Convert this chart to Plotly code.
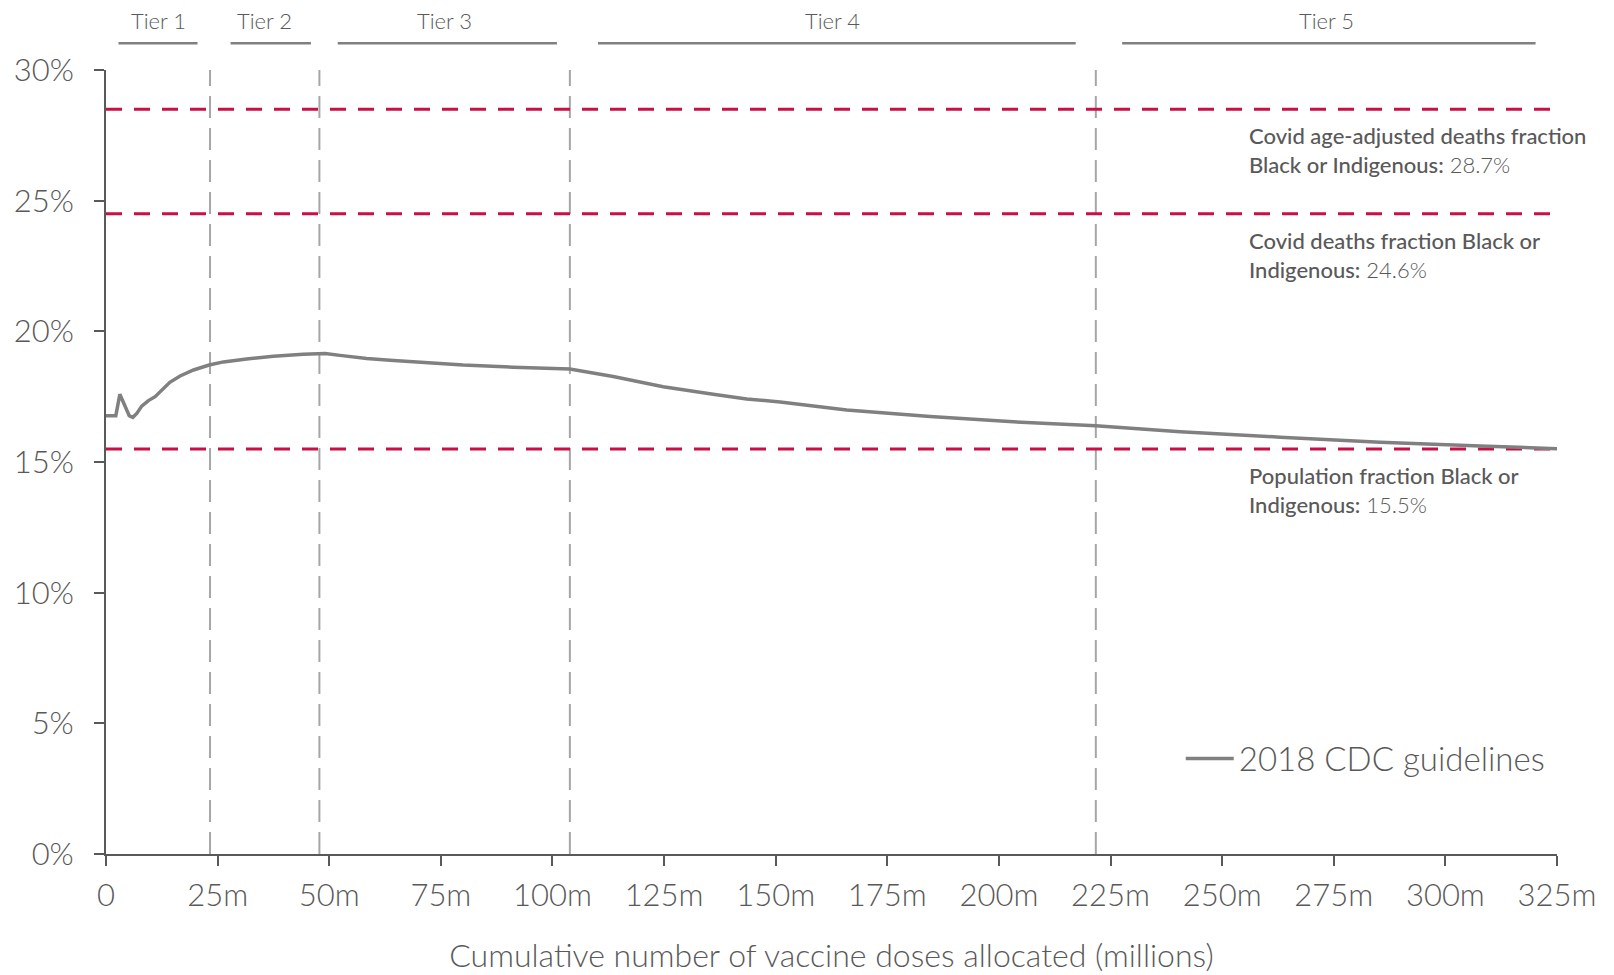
import plotly.graph_objects as go

# ---- data ----
doses_m = [0, 2.2, 3.1, 4.3, 5.2, 6.0, 6.9, 8.0, 9.5, 11.0, 12.5, 14.3, 16.6, 19.6, 23.1, 26.3,
           31.5, 37.5, 44.2, 49.1, 52.4, 58.4, 63.6, 71.1, 80.0, 91.2, 103.9, 113.6, 124.8,
           136.0, 143.5, 151.0, 165.9, 184.6, 203.2, 221.7, 240.6, 263.0, 285.4, 307.8, 325.0]
pct_black_indigenous = [16.77, 16.77, 17.59, 17.12, 16.77, 16.71, 16.86, 17.14, 17.35, 17.5, 17.76,
                        18.05, 18.29, 18.52, 18.71, 18.83, 18.94, 19.05, 19.12, 19.15, 19.08, 18.96,
                        18.89, 18.80, 18.71, 18.63, 18.56, 18.27, 17.88, 17.59, 17.41, 17.30, 16.99,
                        16.74, 16.54, 16.39, 16.16, 15.95, 15.76, 15.61, 15.51]
series_name = "2018 CDC guidelines"

ref_levels = [28.5, 24.5, 15.5]
ref_labels = ["Covid age-adjusted deaths fraction<br>Black or Indigenous:",
              "Covid deaths fraction Black or<br>Indigenous:",
              "Population fraction Black or<br>Indigenous:"]
ref_values_text = ["28.7%", "24.6%", "15.5%"]

tier_names = ["Tier 1", "Tier 2", "Tier 3", "Tier 4", "Tier 5"]
tier_bounds = [0, 23.3, 47.8, 103.9, 221.7, 325]
tier_bracket_start = [2.8, 27.9, 51.9, 110.2, 227.6]
tier_bracket_end = [20.5, 45.9, 101.0, 217.2, 320.2]

x_ticks = [0, 25, 50, 75, 100, 125, 150, 175, 200, 225, 250, 275, 300, 325]
x_ticktext = ["0"] + [f"{v}m" for v in x_ticks[1:]]
y_ticks = [0, 5, 10, 15, 20, 25, 30]
y_ticktext = [f"{v}%" for v in y_ticks]

# ---- style ----
FONT = "Lato"
TXT = "#595959"
RED = "#C90F45"
LINE_GRAY = "#808080"
VGRAY = "#a6a6a6"

fig = go.Figure()
fig.add_trace(go.Scatter(x=doses_m, y=pct_black_indigenous, mode="lines", name=series_name,
                         line=dict(color=LINE_GRAY, width=3.5), cliponaxis=False))

shapes = []
for b in tier_bounds[1:-1]:
    shapes.append(dict(type="line", xref="x", yref="y", x0=b, x1=b, y0=0, y1=30,
                       line=dict(color=VGRAY, width=2, dash="22px,10px"), layer="below"))
for lv in ref_levels:
    shapes.append(dict(type="line", xref="x", yref="y", x0=0, x1=323.5, y0=lv, y1=lv,
                       line=dict(color=RED, width=3, dash="16px,12px"), layer="below"))
annotations = []
for i, name in enumerate(tier_names):
    a, b = tier_bounds[i], tier_bounds[i + 1]
    shapes.append(dict(type="line", xref="x", yref="paper",
                       x0=tier_bracket_start[i], x1=tier_bracket_end[i],
                       y0=1.0342, y1=1.0342, line=dict(color="#808080", width=2.5)))
    annotations.append(dict(x=(a + b) / 2, y=1.0635, xref="x", yref="paper", text=name,
                            showarrow=False, font=dict(family=FONT, size=22, color=TXT, weight=300),
                            xanchor="center", yanchor="middle"))

for lv, lab, val in zip(ref_levels, ref_labels, ref_values_text):
    annotations.append(dict(x=255.6, y=lv, xref="x", yref="y", xanchor="left", yanchor="top",
                            yshift=-11, align="left", showarrow=False,
                            text=f"<span style='font-weight:500'>{lab}</span> "
                                 f"<span style='font-weight:300'>{val}</span>",
                            font=dict(family=FONT, size=22, color=TXT)))

fig.update_layout(
    width=1614, height=975,
    margin=dict(l=98, r=65, t=62, b=129),
    paper_bgcolor="white", plot_bgcolor="white",
    font=dict(family=FONT, color=TXT, size=31, weight=300),
    shapes=shapes, annotations=annotations,
    showlegend=True,
    legend=dict(x=0.995, xanchor="right", y=0.1217, yanchor="middle", itemwidth=48,
                font=dict(family=FONT, size=33, color=TXT, weight=300),
                bgcolor="rgba(0,0,0,0)"),
    xaxis=dict(range=[0, 325], tickvals=x_ticks, ticktext=x_ticktext, automargin=False,
               showgrid=False, zeroline=False, showline=True, linecolor="#595959", linewidth=2,
               ticks="outside", ticklen=10, tickwidth=2, tickcolor="#595959",
               ticklabelstandoff=3,
               tickfont=dict(family=FONT, size=31, color=TXT, weight=300),
               title=dict(text="Cumulative number of vaccine doses allocated (millions)",
                          font=dict(family=FONT, size=32, color=TXT, weight=300), standoff=32)),
    yaxis=dict(range=[0, 30], tickvals=y_ticks, ticktext=y_ticktext, automargin=False,
               showgrid=False, zeroline=False, showline=True, linecolor="#595959", linewidth=2,
               ticks="outside", ticklen=10, tickwidth=2, tickcolor="#595959",
               ticklabelstandoff=14,
               tickfont=dict(family=FONT, size=31, color=TXT, weight=300)),
)

fig.write_html("out.html")
